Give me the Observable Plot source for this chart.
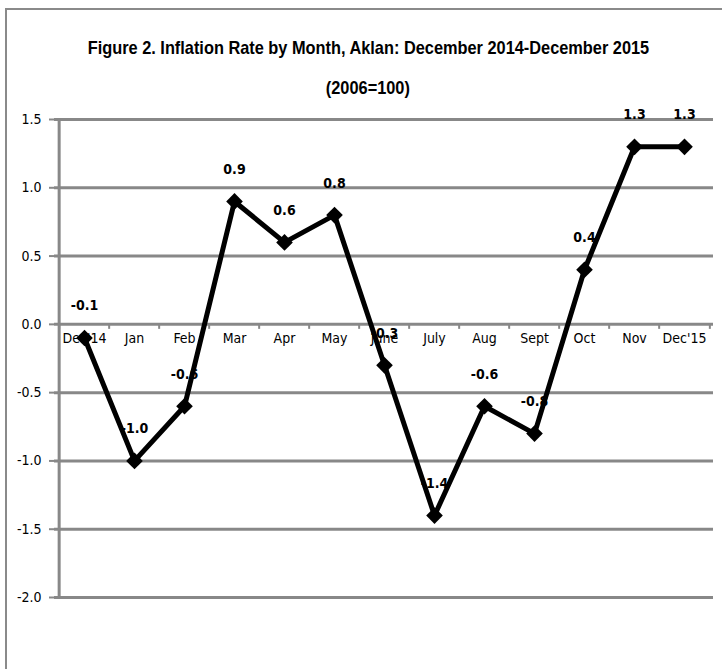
<!DOCTYPE html>
<html><head><meta charset="utf-8">
<script src="https://cdn.jsdelivr.net/npm/d3@7"></script>
<script src="https://cdn.jsdelivr.net/npm/@observablehq/plot@0.6"></script>
<style>
html,body{margin:0;overflow:hidden;}
body{width:722px;height:669px;background:#fff;position:relative;font-family:"DejaVu Sans Condensed",sans-serif;}
#frame{position:absolute;left:5px;top:8px;width:717px;height:661px;border-left:2px solid #8a8a8a;border-top:2px solid #8a8a8a;box-sizing:border-box;}
#title{position:absolute;left:0;width:736px;top:28px;text-align:center;font-family:"Liberation Sans",Arial,sans-serif;font-weight:bold;font-size:19px;line-height:40px;color:#000}
#title span{display:inline-block;transform:scaleX(0.86);transform-origin:center;white-space:nowrap}
#chart{position:absolute;left:0;top:0}
</style></head><body>
<div id="frame"></div>
<div id="chart"></div>
<div id="title"><span>Figure 2. Inflation Rate by Month, Aklan: December 2014-December 2015</span><br><span>(2006=100)</span></div>
<script>
const months = ["Dec'14","Jan","Feb","Mar","Apr","May","June","July","Aug","Sept","Oct","Nov","Dec'15"];
const rates = [-0.1,-1.0,-0.6,0.9,0.6,0.8,-0.3,-1.4,-0.6,-0.8,0.4,1.3,1.3];
const yTicks = [1.5,1.0,0.5,0.0,-0.5,-1.0,-1.5,-2.0];

const data = months.map((m,i)=>({month:m, rate:rates[i]}));
const W = 722, H = 669, mL = 54, mR = 9, mT = 119, mB = 72;
const step = (W - mL - mR) / months.length;
const font = '"DejaVu Sans Condensed",sans-serif';

const chart = Plot.plot({
  width: W, height: H,
  marginLeft: mL, marginRight: mR, marginTop: mT, marginBottom: mB,
  style: {fontFamily: font, background: "transparent", color: "#000"},
  x: {type: "point", domain: months, padding: 0.5, axis: null},
  y: {domain: [-2, 1.5], axis: null},
  marks: [
    Plot.ruleY(yTicks, {stroke: "#888", strokeWidth: 3}),
    Plot.ruleX([months[0]], {x: d=>d, dx: -step/2, stroke: "#888", strokeWidth: 3}),
    Plot.axisY(yTicks, {label: null, tickSize: 5, tickPadding: 8, tickFormat: d=>d.toFixed(1), stroke: "#888", strokeWidth: 2, fontSize: 14, fill: "#000", textStroke: "none"}),
    Plot.ruleX(months, {x: d=>d, dx: -step/2, y1: ()=>0, y2: ()=>0, insetBottom: -5, stroke: "#888", strokeWidth: 2}),
    Plot.ruleX([months[months.length-1]], {x: d=>d, dx: step/2, y1: ()=>0, y2: ()=>0, insetBottom: -5, stroke: "#888", strokeWidth: 2}),
    Plot.text(months, {x: d=>d, y: ()=>0, dy: 14, text: d=>d, fontSize: 14, fill: "#000"}),
    Plot.text(data, {x: "month", y: "rate", dy: -32, text: d=>d.rate.toFixed(1), fontSize: 14, fontWeight: "bold", fill: "#000"}),
    Plot.line(data, {x: "month", y: "rate", stroke: "#000", strokeWidth: 5}),
    Plot.dot(data, {x: "month", y: "rate", symbol: "diamond2", r: 7.5, fill: "#000", stroke: "none"})
  ]
});
document.getElementById("chart").appendChild(chart);
</script>
</body></html>
